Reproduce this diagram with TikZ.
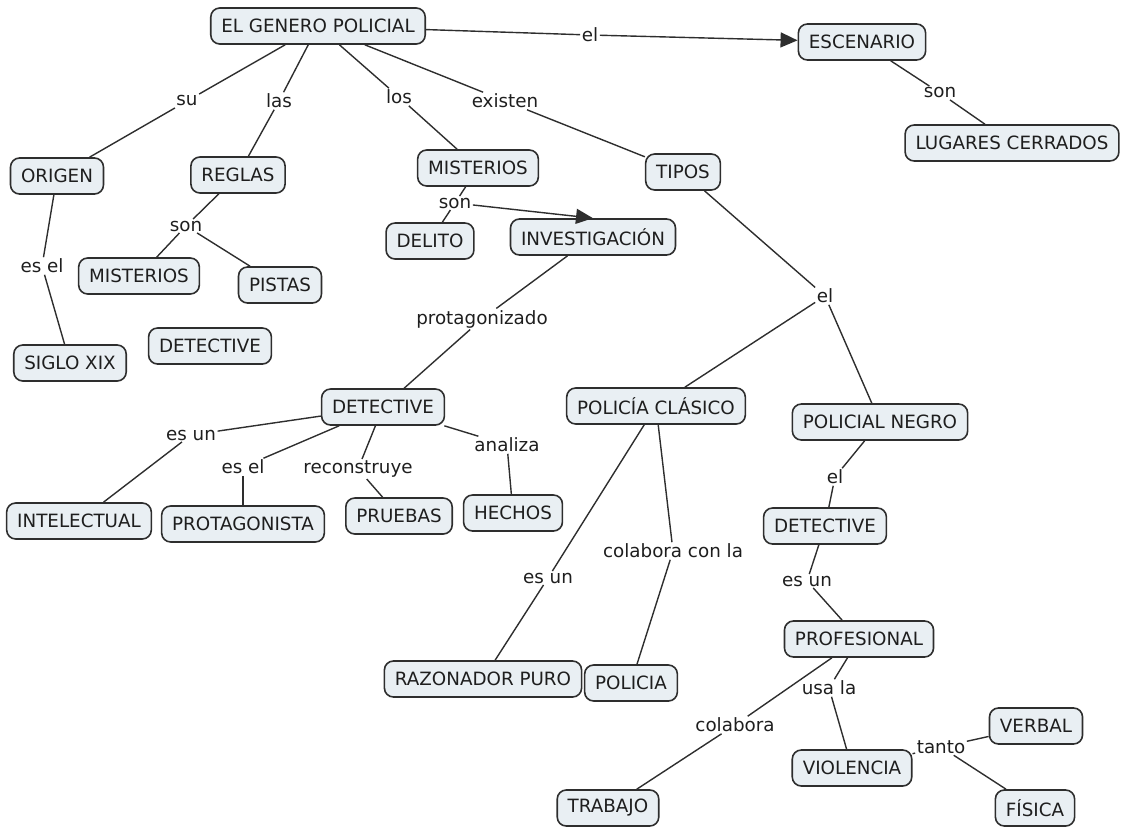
\documentclass[tikz,border=0pt]{standalone}
\usepackage{fontspec}
\setmainfont{DejaVu Sans}
\usetikzlibrary{arrows.meta}
\definecolor{cfill}{HTML}{E9EFF3}
\definecolor{cline}{HTML}{2E2E2E}
\definecolor{ctext}{HTML}{1E1E1E}
\tikzset{
  concept/.style={draw=cline, fill=cfill, rounded corners=9pt, line width=1.6pt,
    minimum height=36pt, inner xsep=10.5pt, inner ysep=4pt, text=ctext,
    font=\fontsize{18.3}{21}\selectfont},
  lbl/.style={inner sep=1.5pt, text=ctext, font=\fontsize{18.3}{21}\selectfont},
  conn/.style={line width=1.4pt, draw=cline},
  arr/.style={conn, -{Triangle[length=17pt,width=15pt]}}
}
\begin{document}
\begin{tikzpicture}[x=1pt,y=-1pt]
\useasboundingbox (0,0) rectangle (1121,828);
% concepts
\node[concept] (egp) at (318,26) {EL GENERO POLICIAL};
\node[concept] (esc) at (862,42) {ESCENARIO};
\node[concept] (lug) at (1012,143) {LUGARES CERRADOS};
\node[concept] (origen) at (57,176) {ORIGEN};
\node[concept] (reglas) at (238,175) {REGLAS};
\node[concept] (mist2) at (478,168) {MISTERIOS};
\node[concept] (tipos) at (683,172) {TIPOS};
\node[concept] (mist1) at (139,276) {MISTERIOS};
\node[concept] (pistas) at (280,285) {PISTAS};
\node[concept] (delito) at (430,241) {DELITO};
\node[concept] (inv) at (593,237) {INVESTIGACIÓN};
\node[concept] (detiso) at (210,346) {DETECTIVE};
\node[concept] (siglo) at (70,363) {SIGLO XIX};
\node[concept] (det2) at (383,407) {DETECTIVE};
\node[concept] (polc) at (656,406) {POLICÍA CLÁSICO};
\node[concept] (poln) at (880,422) {POLICIAL NEGRO};
\node[concept] (intel) at (79,521) {INTELECTUAL};
\node[concept] (protag) at (243,524) {PROTAGONISTA};
\node[concept] (pruebas) at (399,516) {PRUEBAS};
\node[concept] (hechos) at (513,513) {HECHOS};
\node[concept] (det3) at (825,526) {DETECTIVE};
\node[concept] (prof) at (859,639) {PROFESIONAL};
\node[concept] (razon) at (483,679) {RAZONADOR PURO};
\node[concept] (policia) at (631,683) {POLICIA};
\node[concept] (verbal) at (1036,726) {VERBAL};
\node[concept] (viol) at (852,768) {VIOLENCIA};
\node[concept] (trabajo) at (608,808) {TRABAJO};
\node[concept] (fisica) at (1035,808) {FÍSICA};
% linking phrases
\node[lbl] (l-el1) at (590,35) {el};
\node[lbl] (l-son1) at (940,93) {son};
\node[lbl] (l-su) at (187,101) {su};
\node[lbl] (l-las) at (279,101) {las};
\node[lbl] (l-los) at (399,97) {los};
\node[lbl] (l-exist) at (505,101) {existen};
\node[lbl] (l-son2) at (186,226) {son};
\node[lbl] (l-esel1) at (42,266) {es el};
\node[lbl] (l-son3) at (455,203) {son};
\node[lbl] (l-el2) at (825,296) {el};
\node[lbl] (l-protz) at (482,319) {protagonizado};
\node[lbl] (l-esun1) at (191,435) {es un};
\node[lbl] (l-esel2) at (243,467) {es el};
\node[lbl] (l-recon) at (358,469) {reconstruye};
\node[lbl] (l-analiza) at (507,445) {analiza};
\node[lbl] (l-el3) at (835,477) {el};
\node[lbl] (l-esun2) at (548,578) {es un};
\node[lbl] (l-colcon) at (673,551) {colabora con la};
\node[lbl] (l-esun3) at (807,581) {es un};
\node[lbl] (l-colab) at (735,725) {colabora};
\node[lbl] (l-usala) at (829,688) {usa la};
\node[lbl] (l-tanto) at (941,747) {tanto};
% connectors
\draw[conn] (egp) -- (l-el1);
\draw[arr] (l-el1) -- (esc);
\draw[conn] (esc) -- (l-son1);
\draw[conn] (l-son1) -- (lug);
\draw[conn] (egp) -- (l-su);
\draw[conn] (l-su) -- (origen);
\draw[conn] (egp) -- (l-las);
\draw[conn] (l-las) -- (reglas);
\draw[conn] (egp) -- (l-los);
\draw[conn] (l-los) -- (mist2);
\draw[conn] (egp) -- (l-exist);
\draw[conn] (l-exist) -- (tipos);
\draw[conn] (origen) -- (l-esel1);
\draw[conn] (l-esel1) -- (siglo);
\draw[conn] (reglas) -- (l-son2);
\draw[conn] (l-son2) -- (mist1);
\draw[conn] (l-son2) -- (pistas);
\draw[conn] (mist2) -- (l-son3);
\draw[conn] (l-son3) -- (delito);
\draw[arr] (l-son3) -- (inv.north);
\draw[conn] (inv) -- (l-protz);
\draw[conn] (l-protz) -- (det2);
\draw[conn] (det2) -- (l-esun1);
\draw[conn] (l-esun1) -- (intel);
\draw[conn] (det2) -- (l-esel2);
\draw[conn] (l-esel2) -- (protag);
\draw[conn] (det2) -- (l-recon);
\draw[conn] (l-recon) -- (pruebas);
\draw[conn] (det2) -- (l-analiza);
\draw[conn] (l-analiza) -- (hechos);
\draw[conn] (tipos) -- (l-el2);
\draw[conn] (l-el2) -- (polc);
\draw[conn] (l-el2) -- (poln);
\draw[conn] (polc) -- (l-esun2);
\draw[conn] (l-esun2) -- (razon);
\draw[conn] (polc) -- (l-colcon);
\draw[conn] (l-colcon) -- (policia);
\draw[conn] (poln) -- (l-el3);
\draw[conn] (l-el3) -- (det3);
\draw[conn] (det3) -- (l-esun3);
\draw[conn] (l-esun3) -- (prof);
\draw[conn] (prof) -- (l-colab);
\draw[conn] (l-colab) -- (trabajo);
\draw[conn] (prof) -- (l-usala);
\draw[conn] (l-usala) -- (viol);
\draw[conn] (viol) -- (l-tanto);
\draw[conn] (l-tanto) -- (verbal);
\draw[conn] (l-tanto) -- (fisica);
\end{tikzpicture}
\end{document}
